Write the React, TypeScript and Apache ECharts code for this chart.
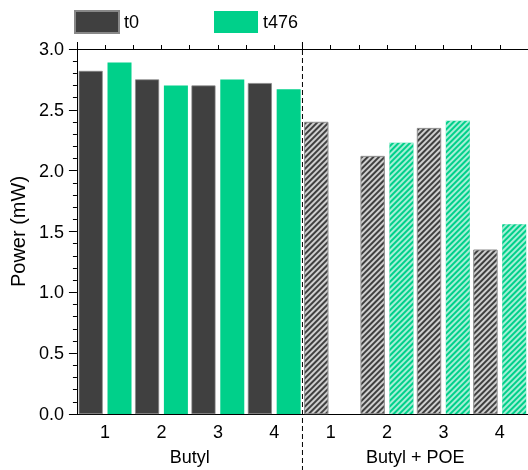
import React, { useEffect, useRef } from "react";
import * as echarts from "echarts";

const sampleLabels = ["1", "2", "3", "4", "1", "2", "3", "4"];
const groupLabels = ["Butyl", "Butyl + POE"];
const seriesNames = ["t0", "t476"];
const butylT0 = [2.82, 2.75, 2.7, 2.72];
const butylT476 = [2.89, 2.7, 2.75, 2.67];
const poeT0 = [2.4, 2.12, 2.35, 1.35];
const poeT476 = [0, 2.23, 2.41, 1.56];
const yTicks = [0, 0.5, 1.0, 1.5, 2.0, 2.5, 3.0];

const DARK = "#404040";
const GREEN = "#00D08A";
const FONT = "'Liberation Sans', Arial, sans-serif";

const hatch = (color: string) => ({
  symbol: "rect",
  symbolSize: 1,
  dashArrayX: [1, 0],
  dashArrayY: [1.1, 1.3],
  rotation: -Math.PI / 4,
  color,
});

function buildData(left: number[], right: number[], stripe: string) {
  return [
    ...left.map((v) => ({ value: v })),
    ...right.map((v) => ({ value: v, itemStyle: { decal: hatch(stripe) } })),
  ];
}

export default function App() {
  const ref = useRef<HTMLDivElement>(null);
  useEffect(() => {
    if (!ref.current) return;
    const chart = echarts.init(ref.current, null, { renderer: "svg" });
    const topEmpty = new Array(sampleLabels.length * 2).fill("");
    chart.setOption({
      animation: false,
      textStyle: { fontFamily: FONT },
      legend: {
        left: 69,
        top: 5,
        itemWidth: 44,
        itemHeight: 22,
        itemGap: 75,
        icon: "rect",
        textStyle: { fontSize: 18, color: "#000", fontFamily: FONT },
        data: seriesNames,
      },
      grid: { left: 75, right: 0, top: 49, bottom: 56, containLabel: false },
      xAxis: [
        {
          type: "category",
          position: "bottom",
          data: sampleLabels,
          axisLine: { show: true, lineStyle: { color: "#000", width: 1 } },
          axisTick: { show: false },
          axisLabel: { fontSize: 18, color: "#000", margin: 9, fontFamily: FONT },
        },
        {
          type: "category",
          position: "bottom",
          data: groupLabels,
          axisLine: { show: false },
          axisTick: { show: false },
          axisLabel: { fontSize: 18, color: "#000", margin: 34, fontFamily: FONT },
        },
        {
          type: "category",
          position: "top",
          data: topEmpty,
          axisLine: { show: true, lineStyle: { color: "#000", width: 1 } },
          axisTick: { show: true, length: 4, interval: 0, lineStyle: { color: "#000" } },
          axisLabel: { show: false },
        },
        {
          type: "category",
          position: "top",
          data: groupLabels,
          axisLine: { show: false },
          axisTick: { show: true, length: 7, interval: 0, lineStyle: { color: "#000" } },
          axisLabel: { show: false },
        },
      ],
      yAxis: {
        type: "value",
        min: yTicks[0],
        max: yTicks[yTicks.length - 1],
        interval: 0.5,
        name: "Power (mW)",
        nameLocation: "middle",
        nameGap: 39,
        nameTextStyle: { fontSize: 20, color: "#000", fontFamily: FONT },
        axisLine: { show: true, lineStyle: { color: "#000", width: 1 } },
        axisTick: { show: true, length: 8, lineStyle: { color: "#000" } },
        minorTick: { show: true, splitNumber: 5, length: 4, lineStyle: { color: "#000" } },
        splitLine: { show: false },
        axisLabel: {
          fontSize: 18,
          color: "#000",
          margin: 13,
          fontFamily: FONT,
          formatter: (v: number) => v.toFixed(1),
        },
      },
      series: [
        {
          name: seriesNames[0],
          type: "bar",
          xAxisIndex: 0,
          barWidth: 24,
          barGap: "20%",
          itemStyle: { color: DARK, borderColor: "#888", borderWidth: 0.7 },
          data: buildData(butylT0, poeT0, "rgba(255,255,255,0.75)"),
        },
        {
          name: seriesNames[1],
          type: "bar",
          xAxisIndex: 0,
          barWidth: 24,
          barGap: "20%",
          itemStyle: { color: GREEN },
          data: buildData(butylT476, poeT476, "rgba(255,255,255,0.65)"),
        },
      ],
    });
    const c0 = chart.convertToPixel({ xAxisIndex: 1 }, groupLabels[0]) as number;
    const c1 = chart.convertToPixel({ xAxisIndex: 1 }, groupLabels[1]) as number;
    const yTop = chart.convertToPixel({ yAxisIndex: 0 }, yTicks[yTicks.length - 1]) as number;
    const xMid = (c0 + c1) / 2;
    chart.setOption({
      graphic: [
        {
          type: "line",
          shape: { x1: xMid, y1: yTop - 7, x2: xMid, y2: chart.getHeight() },
          style: { stroke: "#000", lineWidth: 1, lineDash: [5, 3] },
          z: 10,
        },
      ],
    });
    return () => chart.dispose();
  }, []);
  return (
    <div
      ref={ref}
      style={{ position: "fixed", left: 0, top: 0, width: 528, height: 470 }}
    />
  );
}
